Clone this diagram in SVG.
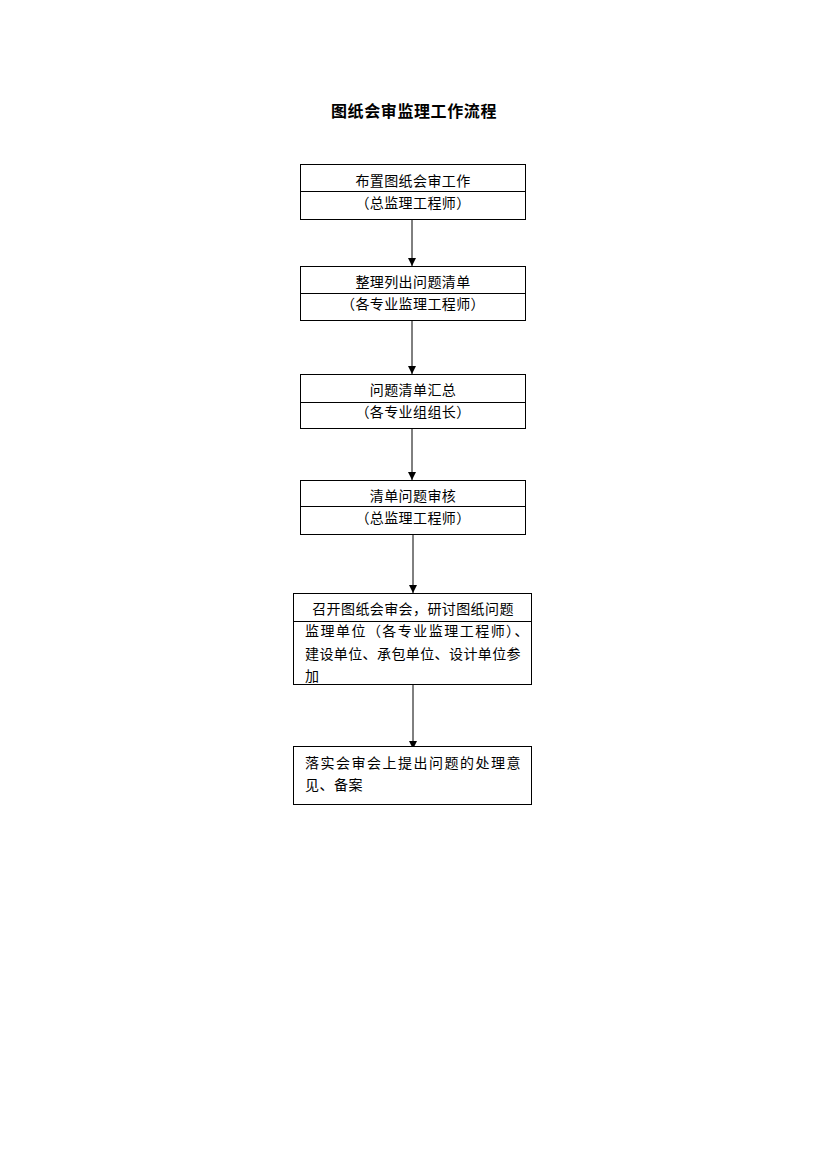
<svg xmlns="http://www.w3.org/2000/svg" width="827" height="1169" viewBox="0 0 827 1169">
<style>
.box{fill:#fff;stroke:#000;stroke-width:1}
.div{stroke:#000;stroke-width:1}
.t{font-family:"Liberation Serif","Noto Sans CJK SC",serif;font-size:14px;fill:#000;letter-spacing:0.4px}
.c{text-anchor:middle}
.title{font-family:"Liberation Sans","Noto Sans CJK SC",sans-serif;font-size:16px;font-weight:bold;text-anchor:middle;letter-spacing:0.6px}
.conn{stroke:#000;stroke-width:1;fill:none;marker-end:url(#ah)}
</style>
<defs>
<marker id="ah" markerWidth="8" markerHeight="8" refX="8" refY="4" orient="auto" markerUnits="userSpaceOnUse">
<path d="M0,0 L8,4 L0,8 Z" fill="#000"/>
</marker>
</defs>
<rect width="827" height="1169" fill="#fff"/>
<text class="title" x="414" y="117">图纸会审监理工作流程</text>
<g id="connectors">
<line class="conn" x1="412" y1="219" x2="412" y2="266"/>
<line class="conn" x1="412" y1="320" x2="412" y2="374"/>
<line class="conn" x1="412" y1="428" x2="412" y2="480"/>
<line class="conn" x1="413" y1="534" x2="413" y2="593"/>
<line class="conn" x1="413" y1="684" x2="413" y2="749"/>
</g>
<g id="n1">
<rect class="box" x="300.5" y="164.5" width="225" height="55"/>
<line class="div" x1="300.5" y1="191.5" x2="525.5" y2="191.5"/>
<text class="t c" x="413" y="186">布置图纸会审工作</text>
<text class="t c" x="413" y="208">（总监理工程师）</text>
</g>
<g id="n2">
<rect class="box" x="300.5" y="266.5" width="225" height="54"/>
<line class="div" x1="300.5" y1="293.5" x2="525.5" y2="293.5"/>
<text class="t c" x="413" y="287">整理列出问题清单</text>
<text class="t c" x="413" y="309">（各专业监理工程师）</text>
</g>
<g id="n3">
<rect class="box" x="300.5" y="374.5" width="225" height="54"/>
<line class="div" x1="300.5" y1="402.5" x2="525.5" y2="402.5"/>
<text class="t c" x="413" y="395">问题清单汇总</text>
<text class="t c" x="413" y="417">（各专业组组长）</text>
</g>
<g id="n4">
<rect class="box" x="300.5" y="480.5" width="225" height="54"/>
<line class="div" x1="300.5" y1="506.5" x2="525.5" y2="506.5"/>
<text class="t c" x="413" y="501">清单问题审核</text>
<text class="t c" x="413" y="523">（总监理工程师）</text>
</g>
<g id="n5">
<rect class="box" x="293.5" y="593.5" width="238" height="91"/>
<line class="div" x1="293.5" y1="621.5" x2="531.5" y2="621.5"/>
<text class="t c" x="413" y="614">召开图纸会审会，研讨图纸问题</text>
<text class="t" x="305" y="636" textLength="224" lengthAdjust="spacing">监理单位（各专业监理工程师）、</text>
<text class="t" x="305" y="659" textLength="216" lengthAdjust="spacing">建设单位、承包单位、设计单位参</text>
<text class="t" x="305" y="681">加</text>
</g>
<g id="n6">
<rect class="box" x="293.5" y="746.5" width="238" height="58"/>
<text class="t" x="305" y="768" textLength="216" lengthAdjust="spacing">落实会审会上提出问题的处理意</text>
<text class="t" x="305" y="790" textLength="58" lengthAdjust="spacing">见、备案</text>
</g>
</svg>
